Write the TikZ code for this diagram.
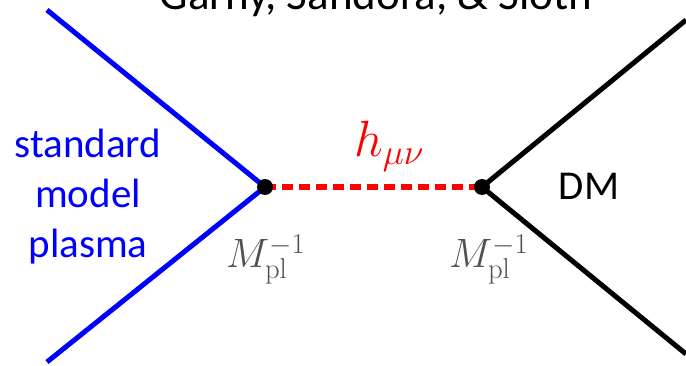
\documentclass[tikz,border=0pt]{standalone}
\usepackage{fix-cm}
\usepackage[no-math]{fontspec}
\setmainfont{Carlito}
\definecolor{lblgray}{RGB}{80,80,80}
\definecolor{smblue}{RGB}{0,0,255}
\definecolor{hred}{RGB}{255,0,0}
\tikzset{
  bigtxt/.style={font=\fontsize{41}{50}\selectfont, inner sep=0pt},
  mathlbl/.style={font=\fontsize{41}{46}\selectfont, text=lblgray, inner sep=0pt, anchor=base west},
  legblue/.style={draw=smblue, line width=5pt},
  legblack/.style={draw=black, line width=5pt},
  graviton/.style={draw=hred, line width=6pt, dash pattern=on 11pt off 6pt},
  vdot/.style={circle, fill=black, inner sep=0pt, minimum size=16pt}
}
\begin{document}
\begin{tikzpicture}[x=1pt,y=-1pt]
\useasboundingbox (0,0) rectangle (686,366);
% title (cut off at top)
\node[font=\fontsize{45}{52}\selectfont, inner sep=0pt, anchor=base] (title) at (376,10) {Garny, Sandora, \& Sloth};
% vertices and external ends
\coordinate (v1) at (265,187);
\coordinate (v2) at (482,187);
\coordinate (a1) at (47,10);
\coordinate (a2) at (47,362);
\coordinate (b1) at (686,20);
\coordinate (b2) at (686,354);
% legs
\draw[legblue] (a1) -- (v1) -- (a2);
\draw[legblack] (b1) -- (v2) -- (b2);
\draw[graviton] (v1) -- (v2);
\node[vdot] (d1) at (v1) {};
\node[vdot] (d2) at (v2) {};
% labels
\node[bigtxt, text=smblue, align=center, anchor=base] (sm) at (88,258) {standard\\model\\plasma};
\node[bigtxt, anchor=base] (dm) at (589,200) {DM};
\node[font=\fontsize{51}{60}\selectfont, text=hred, inner sep=0pt, anchor=base west] (h) at (354,157) {$h_{\mu\nu}$};
\node[mathlbl] (m1) at (226,268) {$M_{\mathrm{pl}}^{-1}$};
\node[mathlbl] (m2) at (449,268) {$M_{\mathrm{pl}}^{-1}$};
\end{tikzpicture}
\end{document}
